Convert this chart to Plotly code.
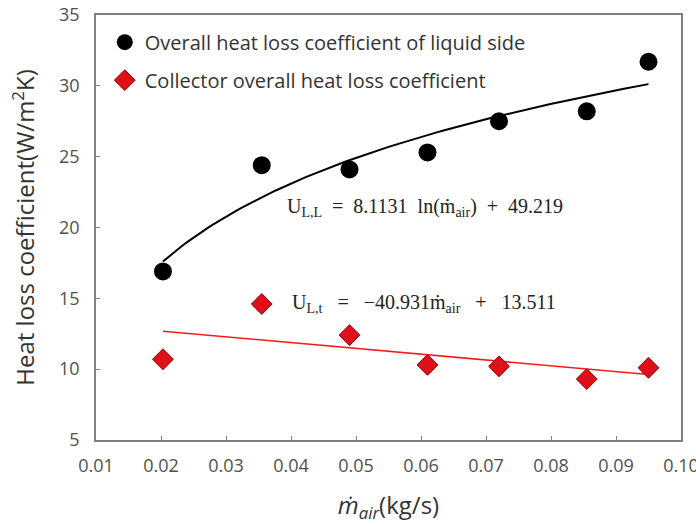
import numpy as np
import plotly.graph_objects as go

# data
m_air = [0.0203, 0.0355, 0.049, 0.061, 0.072, 0.0855, 0.095]
u_liquid = [16.9, 24.4, 24.1, 25.3, 27.5, 28.2, 31.7]
u_collector = [10.7, 14.6, 12.4, 10.3, 10.2, 9.3, 10.1]
x_ticks = [0.01, 0.02, 0.03, 0.04, 0.05, 0.06, 0.07, 0.08, 0.09, 0.10]
y_ticks = [5, 10, 15, 20, 25, 30, 35]
# trendline coefficients (from the chart's equations)
log_a, log_b = 8.1131, 49.219
lin_a, lin_b = -40.931, 13.511

xf = np.linspace(min(m_air), max(m_air), 100)

fig = go.Figure()
fig.add_trace(go.Scatter(x=xf, y=log_a * np.log(xf) + log_b, mode="lines",
                         line=dict(color="black", width=2), showlegend=False, hoverinfo="skip"))
fig.add_trace(go.Scatter(x=[xf[0], xf[-1]], y=[lin_a * xf[0] + lin_b, lin_a * xf[-1] + lin_b],
                         mode="lines", line=dict(color="#ff1a1a", width=1.6),
                         showlegend=False, hoverinfo="skip"))
fig.add_trace(go.Scatter(x=m_air, y=u_liquid, mode="markers",
                         name="Overall heat loss coefficient of liquid side",
                         legendgroup="a",
                         marker=dict(symbol="circle", size=18, color="black")))
fig.add_trace(go.Scatter(x=m_air, y=u_collector, mode="markers",
                         name="Collector overall heat loss coefficient",
                         legendgroup="b",
                         marker=dict(symbol="diamond", size=16, color="#e0101a",
                                     line=dict(color="#8b0000", width=1))))

eq_font = dict(family="Liberation Serif", size=20, color="#222")
fig.add_annotation(x=0.039, y=21.4, xref="x", yref="y", xanchor="left", yanchor="middle",
                   text="U<sub>L,L</sub>&nbsp; = &nbsp;8.1131&nbsp; ln(ṁ<sub>air</sub>)&nbsp; + &nbsp;49.219",
                   showarrow=False, font=eq_font)
fig.add_annotation(x=0.0398, y=14.65, xref="x", yref="y", xanchor="left", yanchor="middle",
                   text="U<sub>L,t</sub>&nbsp;&nbsp; = &nbsp;&nbsp;−40.931ṁ<sub>air</sub>&nbsp;&nbsp; + &nbsp;&nbsp;13.511",
                   showarrow=False, font=eq_font)

axis_common = dict(showline=True, linecolor="#808080", linewidth=1.5, mirror=True,
                   ticks="inside", ticklen=4, tickcolor="#808080", showgrid=False,
                   zeroline=False, automargin=False, ticklabeloverflow="allow",
                   tickfont=dict(family="Open Sans", size=18, color="#505050"))
fig.update_xaxes(range=[0.01, 0.1000001], tickvals=x_ticks, tickformat=".2f", ticklabelstandoff=9,
                 title=dict(text="<i>ṁ<sub>air</sub></i>(kg/s)",
                            font=dict(family="Open Sans", size=24, color="#333"), standoff=24),
                 **axis_common)
fig.update_yaxes(range=[5, 35], tickvals=y_ticks, ticklabelstandoff=11,
                 title=dict(text="Heat loss coefficient(W/m<sup>2</sup>K)",
                            font=dict(family="Open Sans", size=24, color="#333"), standoff=18),
                 **axis_common)

fig.update_layout(width=696, height=524, paper_bgcolor="white", plot_bgcolor="white",
                  margin=dict(l=96, r=15, t=15, b=84),
                  legend=dict(x=0.015, y=0.982, xanchor="left", yanchor="top",
                              bgcolor="rgba(0,0,0,0)", tracegroupgap=9, traceorder="grouped",
                              itemwidth=30,
                              font=dict(family="Open Sans", size=20, color="#333")))

fig.write_html("out.html")
